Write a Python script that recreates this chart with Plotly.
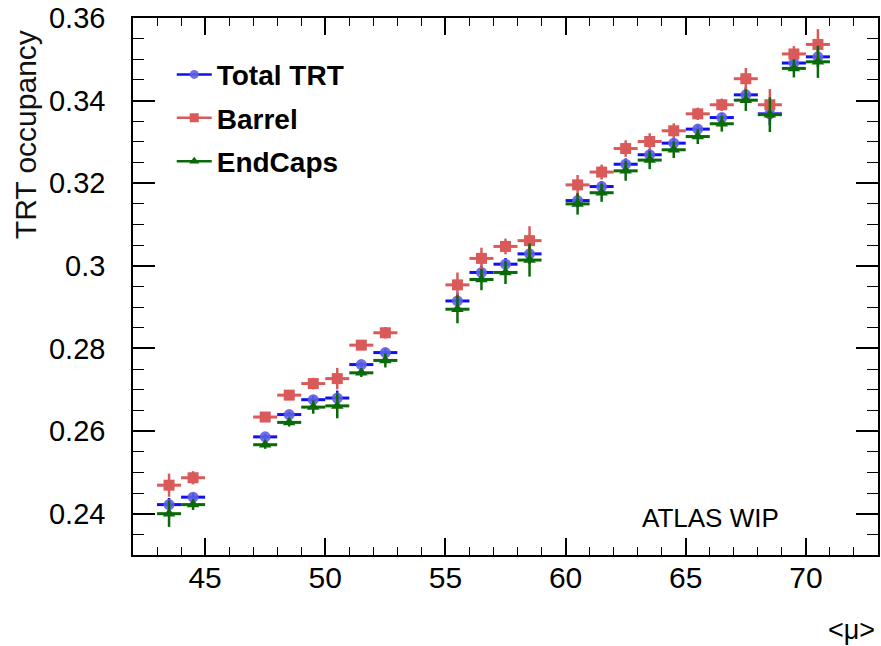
import plotly.graph_objects as go

# <mu> bin centres (bins of width 1)
mu = [43.5, 44.5, 47.5, 48.5, 49.5, 50.5, 51.5, 52.5, 55.5, 56.5, 57.5, 58.5,
      60.5, 61.5, 62.5, 63.5, 64.5, 65.5, 66.5, 67.5, 68.5, 69.5, 70.5]
mu_halfwidth = [0.5] * len(mu)

total_occ = [0.2422, 0.2440, 0.2586, 0.2640, 0.2676, 0.2680, 0.2761, 0.2790,
             0.2915, 0.2984, 0.3004, 0.3029, 0.3158, 0.3192, 0.3246, 0.3269,
             0.3297, 0.3331, 0.3359, 0.3414, 0.3368, 0.3491, 0.3506]
total_err = [0.0016, 0.0010, 0.0007, 0.0007, 0.0010, 0.0018, 0.0006, 0.0010,
             0.0020, 0.0017, 0.0015, 0.0024, 0.0016, 0.0013, 0.0014, 0.0014,
             0.0013, 0.0011, 0.0011, 0.0018, 0.0027, 0.0013, 0.0025]

barrel_occ = [0.2469, 0.2487, 0.2634, 0.2687, 0.2715, 0.2727, 0.2808, 0.2838,
              0.2954, 0.3018, 0.3047, 0.3061, 0.3196, 0.3227, 0.3284, 0.3301,
              0.3327, 0.3368, 0.3390, 0.3453, 0.3390, 0.3513, 0.3536]
barrel_err = [0.0028, 0.0016, 0.0010, 0.0010, 0.0014, 0.0026, 0.0008, 0.0014,
              0.0030, 0.0026, 0.0019, 0.0035, 0.0024, 0.0018, 0.0020, 0.0020,
              0.0018, 0.0015, 0.0015, 0.0026, 0.0038, 0.0019, 0.0037]

endcap_occ = [0.2400, 0.2422, 0.2567, 0.2621, 0.2658, 0.2661, 0.2741, 0.2771,
              0.2895, 0.2967, 0.2984, 0.3014, 0.3150, 0.3177, 0.3230, 0.3256,
              0.3281, 0.3313, 0.3344, 0.3401, 0.3366, 0.3478, 0.3494]
endcap_err = [0.0032, 0.0013, 0.0010, 0.0010, 0.0016, 0.0030, 0.0010, 0.0017,
              0.0034, 0.0026, 0.0028, 0.0040, 0.0026, 0.0022, 0.0024, 0.0022,
              0.0020, 0.0018, 0.0019, 0.0026, 0.0042, 0.0022, 0.0039]

series = [
    ("Total TRT", total_occ, total_err, "#1010f0", "rgba(95,95,230,0.9)", "circle", 11, 9),
    ("Barrel", barrel_occ, barrel_err, "#da5a5a", "#da5a5a", "square", 11, 9),
    ("EndCaps", endcap_occ, endcap_err, "#0a6a0a", "#0a6a0a", "triangle-up", 11, 9),
]

fig = go.Figure()
for name, occ, err, lcol, mcol, sym, msize, lsize in series:
    fig.add_trace(go.Scatter(
        x=mu, y=occ, mode="markers", showlegend=False,
        marker=dict(symbol=sym, size=msize, color=mcol, line=dict(width=0)),
        error_x=dict(type="data", array=mu_halfwidth, color=lcol, thickness=3, width=0),
        error_y=dict(type="data", array=err, color=lcol, thickness=2.5, width=0),
    ))
for name, occ, err, lcol, mcol, sym, msize, lsize in series:
    fig.add_trace(go.Scatter(
        x=[None], y=[None], mode="lines+markers", name=name, legendgroup=name,
        line=dict(color=lcol, width=2.5),
        marker=dict(symbol=sym, size=lsize, color=mcol),
    ))

font_family = "Liberation Sans, Arial, sans-serif"

fig.update_xaxes(
    range=[42, 73], showline=True, linecolor="black", linewidth=1.5, mirror="allticks",
    ticks="inside", ticklen=17, tickwidth=1.5, tickcolor="black", dtick=5, tick0=45,
    minor=dict(ticks="inside", ticklen=8, dtick=1, tickcolor="black", tickwidth=1.2),
    showgrid=False, zeroline=False, ticklabelstandoff=-5,
    tickfont=dict(family=font_family, size=30, color="black"),
)
fig.update_yaxes(
    range=[0.23, 0.36], showline=True, linecolor="black", linewidth=1.5, mirror="allticks",
    ticks="inside", ticklen=22, tickwidth=1.5, tickcolor="black", dtick=0.02, tick0=0.24,
    tickformat="~g",
    minor=dict(ticks="inside", ticklen=11, dtick=0.005, tickcolor="black", tickwidth=1.2),
    showgrid=False, zeroline=False, ticklabelstandoff=20,
    tickfont=dict(family=font_family, size=29, color="black"),
)

fig.add_annotation(
    text="TRT occupancy", textangle=-90, xref="paper", yref="paper",
    x=-0.145, y=0.982, xanchor="center", yanchor="top", showarrow=False,
    font=dict(family=font_family, size=30, color="#111"),
)
fig.add_annotation(
    text="&lt;μ&gt;", xref="paper", yref="paper", x=0.999, y=-0.14,
    xanchor="right", yanchor="middle", showarrow=False,
    font=dict(family=font_family, size=27, color="black"),
)
fig.add_annotation(
    text="ATLAS WIP", xref="paper", yref="paper", x=0.681, y=0.069,
    xanchor="left", yanchor="middle", showarrow=False,
    font=dict(family=font_family, size=26, color="black"),
)

fig.update_layout(
    width=881, height=646,
    margin=dict(l=133, r=1, t=18, b=91),
    paper_bgcolor="white", plot_bgcolor="white",
    legend=dict(
        x=0.052, y=0.941, xanchor="left", yanchor="top",
        bgcolor="rgba(0,0,0,0)", tracegroupgap=4, traceorder="grouped",
        font=dict(family=font_family, size=28, color="black", weight="bold"),
        itemwidth=35,
    ),
)

fig.write_html("out.html")
